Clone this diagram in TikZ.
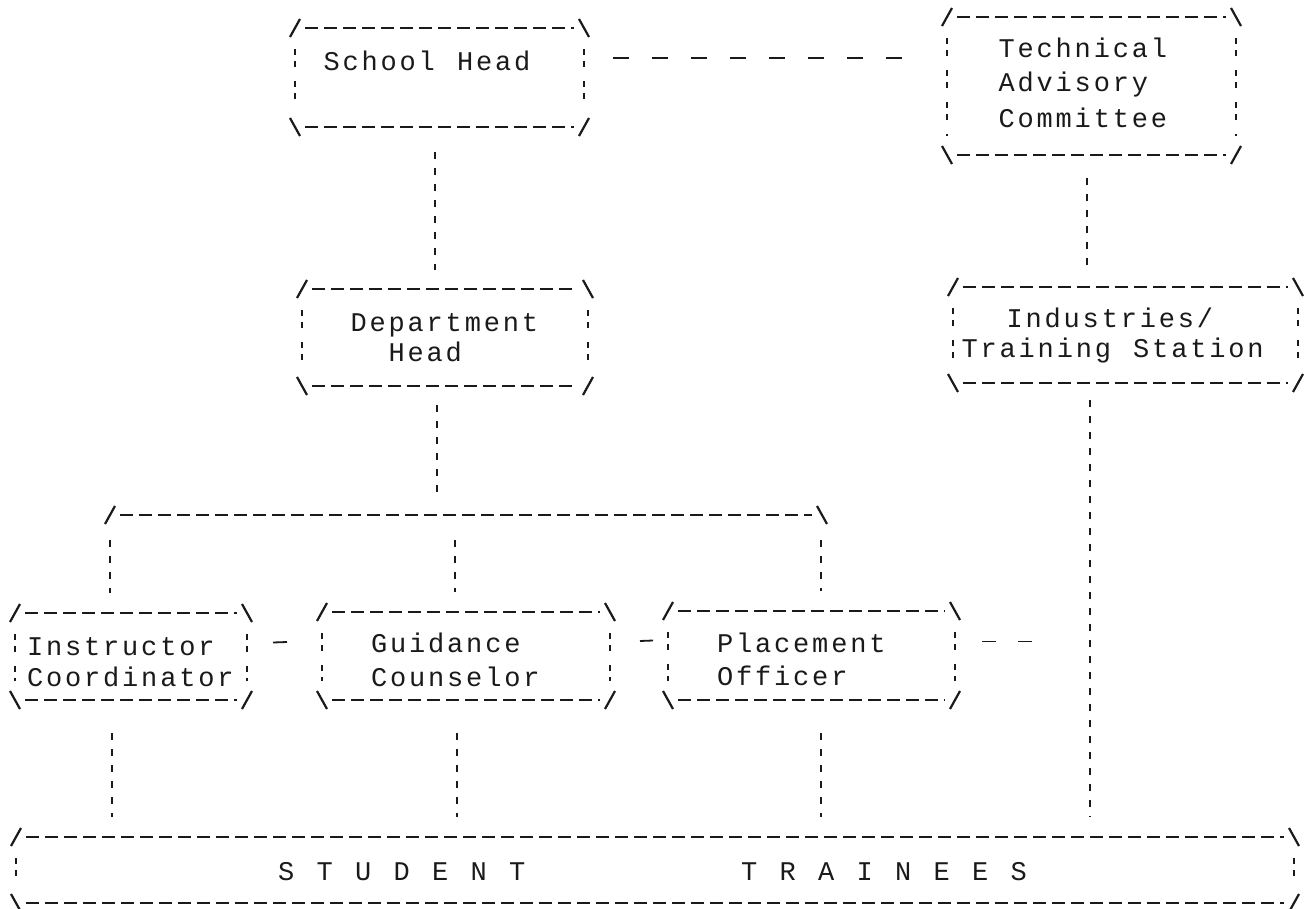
\documentclass[tikz,border=0pt]{standalone}
\usepackage{fontspec}
\usetikzlibrary{calc}
\newfontfamily\dotfont[LetterSpace=10.4,WordSpace=1.173]{Liberation Mono}
\definecolor{ink}{HTML}{1A1A1A}
\tikzset{
  hl/.style={draw=ink, line width=1.8pt, dash pattern=on 13pt off 6pt},
  vl/.style={draw=ink, line width=2.2pt, dash pattern=on 6pt off 6pt on 6pt off 14pt},
  cn/.style={draw=ink, line width=2.2pt},
  vconn/.style={draw=ink, line width=2.2pt, dash pattern=on 7pt off 9pt},
  hconn/.style={draw=ink, line width=1.8pt, dash pattern=on 16pt off 23pt},
  stub/.style={draw=ink, line width=1.8pt},
  stub2/.style={draw=ink, line width=1.8pt, dash pattern=on 14pt off 22pt},
  frame/.style={draw=none, inner sep=0pt, outer sep=0pt, rectangle},
  txt/.style={font={\dotfont\fontsize{27}{32}\selectfont}, text=ink, inner sep=0pt, anchor=base west},
}
\newcommand\asciiframe[1]{%
  \draw[hl] ($(#1.north west)+(10,0)$) -- ($(#1.north east)+(-10,0)$);
  \draw[hl] ($(#1.south west)+(10,0)$) -- ($(#1.south east)+(-10,0)$);
  \draw[vl] ($(#1.north west)+(0,21)$) -- ($(#1.south west)+(0,-19)$);
  \draw[vl] ($(#1.north east)+(0,21)$) -- ($(#1.south east)+(0,-19)$);
  \draw[cn] ($(#1.north west)+(-5,9)$) -- ($(#1.north west)+(5,-9)$);
  \draw[cn] ($(#1.north east)+(-5,-9)$) -- ($(#1.north east)+(5,9)$);
  \draw[cn] ($(#1.south west)+(-5,-9)$) -- ($(#1.south west)+(5,9)$);
  \draw[cn] ($(#1.south east)+(-5,9)$) -- ($(#1.south east)+(5,-9)$);
}
\begin{document}
\begin{tikzpicture}[x=1pt,y=-1pt]
\fill[white] (0,0) rectangle (1304,909);
\useasboundingbox (0,0) rectangle (1304,909);
% boxes
\node[frame, minimum width=289pt, minimum height=99pt]  (sh)  at (439.5,77.5) {};
\node[frame, minimum width=289pt, minimum height=138pt] (tac) at (1091.5,86) {};
\node[frame, minimum width=286pt, minimum height=97pt]  (dh)  at (445,337.5) {};
\node[frame, minimum width=345pt, minimum height=96pt]  (ind) at (1125.5,335) {};
\node[frame, minimum width=232pt, minimum height=87pt]  (ic)  at (131,656.5) {};
\node[frame, minimum width=288pt, minimum height=88pt]  (gc)  at (466,656) {};
\node[frame, minimum width=287pt, minimum height=89pt]  (po)  at (811.5,655.5) {};
\node[frame, minimum width=1278pt, minimum height=66pt] (st)  at (655,870) {};
\foreach \b in {sh,tac,dh,ind,ic,gc,po,st} {\asciiframe{\b}}
% texts
\node[txt] (shT)   at (323.5,71)  {School Head};
\node[txt] (tacT1) at (998.5,58)  {Technical};
\node[txt] (tacT2) at (998.5,92)  {Advisory};
\node[txt] (tacT3) at (998.5,128) {Committee};
\node[txt] (dhT1)  at (350.5,332) {Department};
\node[txt] (dhT2)  at (388.5,362) {Head};
\node[txt] (indT1) at (1006.5,327) {Industries/};
\node[txt] (indT2) at (961.5,357) {Training Station};
\node[txt] (icT1)  at (27,655)   {Instructor};
\node[txt] (icT2)  at (27,686)   {Coordinator};
\node[txt] (gcT1)  at (371,652)  {Guidance};
\node[txt] (gcT2)  at (371,686)  {Counselor};
\node[txt] (poT1)  at (717,652)  {Placement};
\node[txt] (poT2)  at (717,685)  {Officer};
\node[txt] (stT1)  at (278,880)  {S T U D E N T};
\node[txt] (stT2)  at (741,880)  {T R A I N E E S};
% bus
\coordinate (busL) at (110,515);
\coordinate (busM) at (455,515);
\coordinate (busR) at (822,515);
\draw[hl] ($(busL)+(10,0)$) -- ($(busR)+(-10,0)$);
\draw[cn] ($(busL)+(-5,9)$) -- ($(busL)+(5,-9)$);
\draw[cn] ($(busR)+(-5,-9)$) -- ($(busR)+(5,9)$);
% connectors
\draw[hconn] ($(sh.east)+(29,-19.5)$) -- ($(tac.west |- sh.east)+(-22,-19.5)$);
\draw[vconn] ($(sh.south)+(-4.5,25)$) -- ($(sh.south |- dh.north)+(-4.5,-19)$);
\draw[vconn] ($(dh.south)+(-8,19)$) -- ($(dh.south |- busL)+(-8,-20)$);
\draw[vconn] ($(busL)+(0,25)$) -- ($(busL |- ic.north)+(0,-20)$);
\draw[vconn] ($(busM)+(0,25)$) -- ($(busM |- gc.north)+(0,-20)$);
\draw[vconn] ($(busR)+(-1,25)$) -- ($(busR |- po.north)+(-1,-20)$);
\draw[vconn] ($(busL |- ic.south)+(2,33)$) -- ($(busL |- st.north)+(2,-20)$);
\draw[vconn] ($(busM |- gc.south)+(2,33)$) -- ($(busM |- st.north)+(2,-20)$);
\draw[vconn] ($(busR |- po.south)+(-1,33)$) -- ($(busR |- st.north)+(-1,-20)$);
\draw[vconn] ($(tac.south)+(-4.5,23)$) -- ($(tac.south |- ind.north)+(-4.5,-17)$);
\draw[vconn] ($(ind.south west)+(137,17)$) -- ($(ind.south west |- st.north)+(137,-20)$);
\draw[stub] ($(ic.east)+(26,-14)$) -- ($(gc.west)+(-35,-14)$);
\draw[stub] ($(gc.east)+(30,-15)$) -- ($(po.west)+(-15,-15)$);
\draw[stub2] ($(po.east)+(27,-14)$) -- ($(po.east)+(79,-14)$);
\end{tikzpicture}
\end{document}
